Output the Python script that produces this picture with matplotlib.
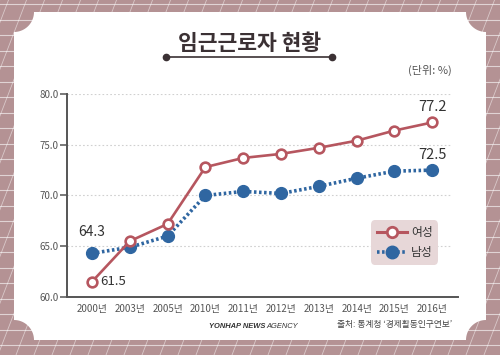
import numpy as np
import matplotlib
matplotlib.use("Agg")
import matplotlib.pyplot as plt
from matplotlib.patches import Polygon, Rectangle
from matplotlib.lines import Line2D

plt.rcParams['font.family'] = ['Noto Sans CJK KR', 'DejaVu Sans']

# ---- data ----
years = ['2000년', '2003년', '2005년', '2010년', '2011년', '2012년', '2013년', '2014년', '2015년', '2016년']
women = [61.5, 65.5, 67.2, 72.8, 73.7, 74.1, 74.7, 75.4, 76.4, 77.2]
men = [64.3, 64.9, 66.0, 70.0, 70.4, 70.2, 70.9, 71.7, 72.4, 72.5]
yticks = [60, 65, 70, 75, 80]
title = '임근근로자 현황'
unit = '(단위: %)'
source = '출처: 통계청 ‘경제활동인구연보’'
series_names = ['여성', '남성']

W, H = 500, 355
BG = '#b49294'
TXT = '#3b3134'
C_W = '#b6565f'
C_M = '#2f66a1'

fig = plt.figure(figsize=(5, 3.55), dpi=100)
bg = fig.add_axes([0, 0, 1, 1])
bg.set_xlim(0, W)
bg.set_ylim(H, 0)
bg.axis('off')
bg.add_patch(Rectangle((0, 0), W, H, color=BG, zorder=0))

# background pattern
for y in np.arange(4, H, 15.5):
    bg.plot([0, W], [y, y], color='white', lw=0.8, alpha=0.6, zorder=1)
for x0 in np.arange(-200, W + 50, 18):
    bg.plot([x0, x0 + H / 2.6], [H, 0], color='white', lw=0.6, alpha=0.5, zorder=1)

# white panel with concave corners
L, R, T, B, r = 14, 486, 12, 340, 20
pts = []
def arc(cx, cy, t0, t1):
    t = np.linspace(t0, t1, 20)
    return list(zip(cx + r * np.cos(t), cy + r * np.sin(t)))
pts += arc(R, T, np.pi, np.pi / 2)
pts += arc(R, B, 3 * np.pi / 2, np.pi)
pts += arc(L, B, 0, -np.pi / 2)
pts += arc(L, T, np.pi / 2, 0)
bg.add_patch(Polygon(pts, closed=True, facecolor='white', edgecolor='none', zorder=2))

# title
bg.text(250, 43, title, ha='center', va='center', fontsize=15.5, fontweight='bold', color=TXT, zorder=3)
bg.plot([166, 332], [57, 57], color=TXT, lw=1.2, zorder=3)
bg.plot([166, 332], [57, 57], 'o', color=TXT, ms=4.5, zorder=3)
bg.text(452, 70, unit, ha='right', va='center', fontsize=8, color='#555555', zorder=3)

# footer
bg.text(265, 326, 'YONHAP NEWS', ha='right', va='center', fontsize=5.4, fontweight='bold',
        style='italic', family='Liberation Sans', color='#333333', zorder=3)
bg.text(266, 326, 'AGENCY', ha='left', va='center', fontsize=5.4,
        style='italic', family='Liberation Sans', color='#333333', zorder=3)
bg.text(452, 325, source, ha='right', va='center', fontsize=6.3, color='#444444', zorder=3)

# main chart
ax = fig.add_axes([0.134, 0.1634, 0.782, 0.5718])
ax.set_facecolor('none')
x = np.arange(len(years))
ax.set_xlim(-0.66, 9.68)
ax.set_ylim(60, 80)
for s in ['top', 'right']:
    ax.spines[s].set_visible(False)
for s in ['left', 'bottom']:
    ax.spines[s].set_color('#555555')
    ax.spines[s].set_linewidth(1.4)
ax.set_yticks(yticks)
ax.set_yticklabels([f'{v:.1f}' for v in yticks])
ax.tick_params(axis='y', direction='out', length=5, width=1.1, color='#555555',
               labelsize=7, labelcolor='#555555', pad=1)
ax.set_xticks(x)
ax.set_xticklabels(years)
ax.tick_params(axis='x', length=0, labelsize=7, labelcolor='#555555', pad=5)
for v in yticks[1:]:
    ax.axhline(v, xmin=0, xmax=0.985, color='#d0d0d0', lw=0.8, ls=(0, (1.5, 2)), zorder=0)

ax.plot(x, men, color=C_M, lw=2.6, ls=(0, (0.7, 0.7)), marker='o', ms=8.5,
        markerfacecolor=C_M, markeredgecolor=C_M, zorder=3, label=series_names[1])
ax.plot(x, women, color=C_W, lw=1.9, marker='o', ms=7, markerfacecolor='white',
        markeredgecolor=C_W, markeredgewidth=1.9, zorder=4, label=series_names[0])

ax.annotate(f'{men[0]}', (x[0], men[0]), xytext=(0, 10), textcoords='offset points',
            ha='center', va='bottom', fontsize=10, color='#333333')
ax.annotate(f'{women[0]}', (x[0], women[0]), xytext=(6, 0), textcoords='offset points',
            ha='left', va='center', fontsize=9.5, color='#333333')
ax.annotate(f'{women[-1]}', (x[-1], women[-1]), xytext=(0, 6), textcoords='offset points',
            ha='center', va='bottom', fontsize=10.5, color='#333333')
ax.annotate(f'{men[-1]}', (x[-1], men[-1]), xytext=(0, 6), textcoords='offset points',
            ha='center', va='bottom', fontsize=10.5, color='#333333')

handles = [
    Line2D([], [], color=C_W, lw=2.2, marker='o', ms=7.5, markerfacecolor='white',
           markeredgecolor=C_W, markeredgewidth=2.0),
    Line2D([], [], color=C_M, lw=2.6, ls=(0, (0.7, 0.7)), marker='o', ms=9,
           markerfacecolor=C_M, markeredgecolor=C_M),
]
leg = ax.legend(handles, series_names, loc='lower right', bbox_to_anchor=(0.965, 0.13),
                frameon=True, facecolor='#e7d7d8', edgecolor='none', framealpha=1,
                fontsize=8.5, handlelength=2.6, handletextpad=0.3, labelspacing=0.55,
                borderpad=0.5, fancybox=True, labelcolor='#333333')
leg.get_frame().set_boxstyle('round', pad=0.0, rounding_size=0.4)

fig.savefig('out.png', dpi=100)
